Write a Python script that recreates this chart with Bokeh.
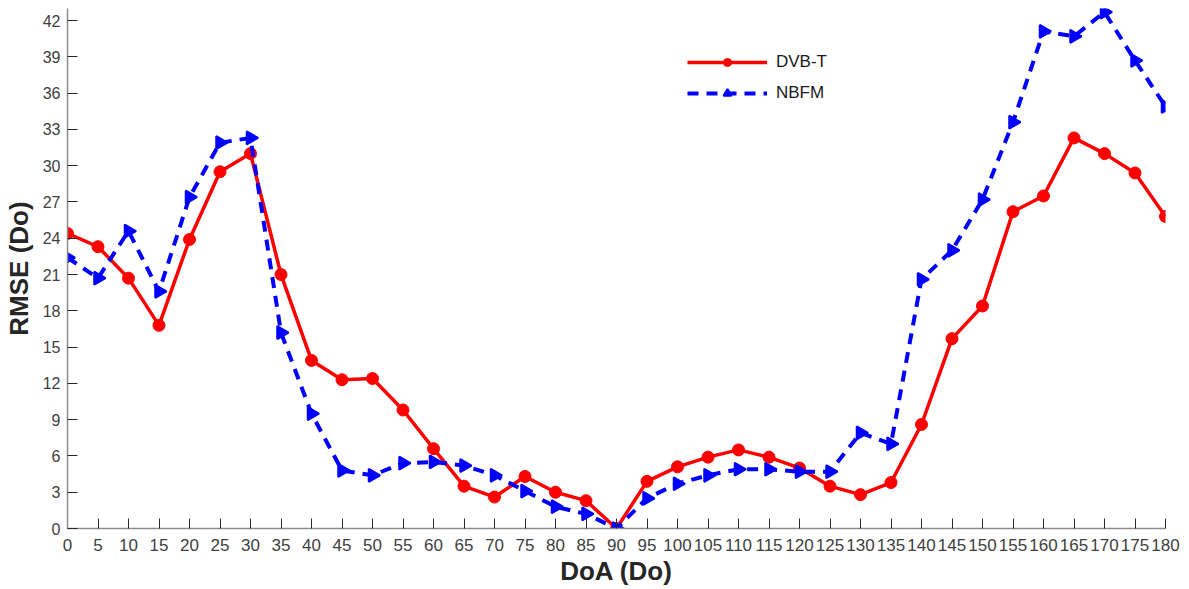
import numpy as np
from bokeh.plotting import figure
from bokeh.models import Range1d, FixedTicker, Legend, LegendItem
from bokeh.embed import file_html
from bokeh.resources import INLINE

doa = [0, 5, 10, 15, 20, 25, 30, 35, 40, 45, 50, 55, 60, 65, 70, 75, 80, 85, 90,
       95, 100, 105, 110, 115, 120, 125, 130, 135, 140, 145, 150, 155, 160, 165, 170, 175, 180]
dvbt = [24.4, 23.3, 20.7, 16.8, 23.9, 29.5, 31.0, 21.0, 13.9, 12.3, 12.4, 9.8, 6.6, 3.5, 2.6, 4.3, 3.0, 2.3, 0.0,
        3.9, 5.1, 5.9, 6.5, 5.9, 5.0, 3.5, 2.8, 3.8, 8.6, 15.7, 18.4, 26.2, 27.5, 32.3, 31.0, 29.4, 25.8]
nbfm = [22.4, 20.7, 24.6, 19.6, 27.4, 31.9, 32.3, 16.2, 9.5, 4.8, 4.4, 5.4, 5.5, 5.2, 4.4, 3.1, 1.8, 1.2, 0.0,
        2.5, 3.7, 4.4, 4.9, 4.9, 4.7, 4.7, 7.9, 7.0, 20.6, 23.0, 27.2, 33.6, 41.1, 40.7, 42.7, 38.7, 34.9]
x_ticks = list(range(0, 181, 5))
y_ticks = list(range(0, 43, 3))

FONT = "Liberation Sans"
TXT = "#262626"

p = figure(width=1189, height=589, output_backend="svg", toolbar_location=None,
           x_range=Range1d(0, 180), y_range=Range1d(0, 43),
           min_border_left=66, min_border_right=24, min_border_top=8, min_border_bottom=61)
p.outline_line_color = None
p.xgrid.visible = False
p.ygrid.visible = False
p.background_fill_color = "white"

for ax, ticks in ((p.xaxis, x_ticks), (p.yaxis, y_ticks)):
    ax.ticker = FixedTicker(ticks=ticks)
    ax.minor_tick_line_color = None
    ax.major_tick_in = 10
    ax.major_tick_out = 0
    ax.major_tick_line_color = TXT
    ax.axis_line_color = "#8c8c8c"
    ax.axis_line_width = 1.5
    ax.major_label_text_font = FONT
    ax.major_label_text_color = "#404040"
    ax.axis_label_text_font = FONT
    ax.axis_label_text_font_style = "bold"
    ax.axis_label_text_font_size = "26px"
    ax.axis_label_text_color = TXT

p.xaxis.major_label_text_font_size = "17px"
p.yaxis.major_label_text_font_size = "16px"
p.xaxis.axis_label = "DoA (Do)"
p.yaxis.axis_label = "RMSE (Do)"
p.xaxis.major_label_standoff = 10
p.xaxis.axis_label_standoff = 2
p.yaxis.major_label_standoff = 7
p.yaxis.axis_label_standoff = 6

r1 = p.line(doa, dvbt, line_color="#ff0000", line_width=3.5)
m1 = p.scatter(doa, dvbt, marker="circle", size=12, fill_color="#ff0000", line_color="#ff0000")
r2 = p.line(doa, nbfm, line_color="#0000ff", line_width=4, line_dash="11 8")
m2 = p.scatter(doa, nbfm, marker="triangle", size=13, angle=-np.pi / 2,
               fill_color="#0000ff", line_color="#0000ff", line_width=2)

legend = Legend(items=[LegendItem(label="DVB-T", renderers=[r1, m1]),
                       LegendItem(label="NBFM", renderers=[r2, m2])],
                location=(620, 425), orientation="vertical",
                glyph_width=80, glyph_height=20, spacing=11, padding=0, margin=0,
                label_standoff=9, label_text_font=FONT, label_text_font_size="17px",
                label_text_color="#1a1a1a", border_line_color=None, background_fill_alpha=0)
p.add_layout(legend, "center")

open("out.html", "w").write(file_html(p, INLINE))
